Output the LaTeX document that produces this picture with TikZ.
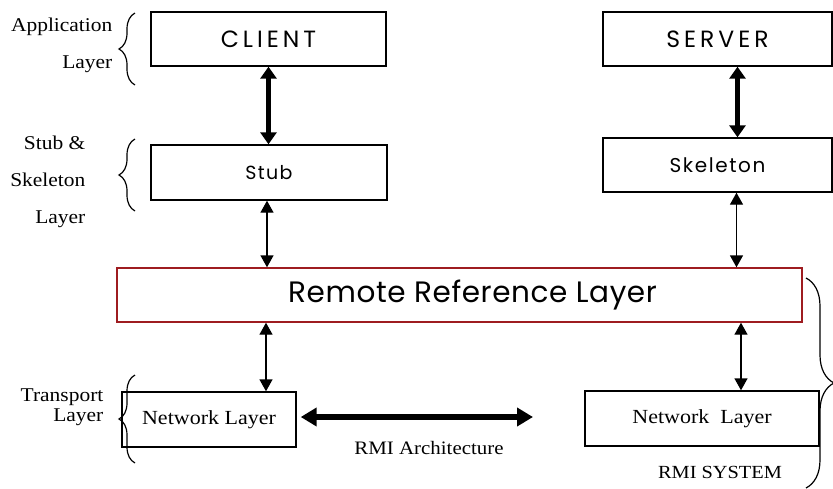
\documentclass[tikz,border=0pt]{standalone}
\usepackage{fontspec}
\setmainfont{Liberation Serif}[FakeStretch=1.1]
\newfontfamily\gothic{Poppins}
\usetikzlibrary{arrows.meta,decorations.pathreplacing}
\definecolor{rrlred}{RGB}{158,28,32}

\begin{document}
\begin{tikzpicture}[x=1pt,y=-1pt,line width=1.3pt]
\tikzset{box/.style={draw=black,rectangle,inner sep=0pt,line width=1.4pt},
  thinarrow/.style={line width=1.4pt,{Triangle[length=12pt,width=13pt]}-{Triangle[length=12pt,width=13pt]}},
  fatarrow/.style={line width=4.5pt,{Triangle[length=12pt,width=16pt]}-{Triangle[length=12pt,width=16pt]}},
  widearrow/.style={line width=6pt,{Triangle[length=16pt,width=18pt]}-{Triangle[length=16pt,width=18pt]}},
  lbl/.style={font=\fontsize{19.5}{37}\selectfont,align=right,anchor=east,inner sep=0pt},
  brc/.style={decorate,decoration={brace,amplitude=16pt},line width=1.2pt}}
\useasboundingbox (0,0) rectangle (833,488);
% ---------- boxes ----------
\node[box,minimum width=235pt,minimum height=54pt,font=\gothic\addfontfeatures{LetterSpace=17}\fontsize{23.5}{24}\selectfont] (client) at (268.5,39) {CLIENT};
\node[box,minimum width=229pt,minimum height=54pt,font=\gothic\addfontfeatures{LetterSpace=17}\fontsize{23.5}{24}\selectfont] (server) at (717.5,39) {SERVER};
\node[box,minimum width=236pt,minimum height=55pt,font=\gothic\addfontfeatures{LetterSpace=7}\fontsize{19}{19}\selectfont] (stub) at (269,172.5) {Stub};
\node[box,minimum width=229pt,minimum height=54pt,font=\gothic\addfontfeatures{LetterSpace=8}\fontsize{20}{20}\selectfont] (skel) at (717.5,165) {Skeleton};
\node[box,draw=rrlred,minimum width=685pt,minimum height=54pt] (rrl) at (459.5,295) {};
\node[font=\gothic\addfontfeatures{LetterSpace=2}\fontsize{29.5}{30}\selectfont] (rrltext) at ([xshift=13pt]rrl.center) {Remote Reference Layer};
\node[box,minimum width=174pt,minimum height=55pt,font=\fontsize{20}{20}\selectfont] (netL) at (209,419.5) {Network Layer};
\node[box,minimum width=234pt,minimum height=55pt,font=\fontsize{20}{20}\selectfont] (netR) at (702,418.5) {Network\ \ Layer};
% ---------- arrows ----------
\draw[fatarrow] (client.south) -- (client.south |- stub.north);
\draw[fatarrow] ([xshift=20pt]server.south) -- ([xshift=20pt]server.south |- skel.north);
\draw[thinarrow] ([xshift=-2pt]stub.south) -- ([xshift=-2pt]stub.south |- rrl.north);
\draw[thinarrow] ([xshift=19pt]skel.south) -- ([xshift=19pt]skel.south |- rrl.north);
\draw[thinarrow] ([xshift=57pt]netL.north |- rrl.south) -- ([xshift=57pt]netL.north);
\draw[thinarrow] ([xshift=39pt]netR.north |- rrl.south) -- ([xshift=39pt]netR.north);
\coordinate (archend) at (533,417);
\draw[widearrow] ([xshift=4pt]netL.east |- archend) -- (archend);
% ---------- braces and labels ----------
\draw[brc] (135,85) -- (135,13);
\draw[brc] (135,211) -- (135,139);
\draw[brc] (135,463) -- (135,375);
\draw[brc,decoration={amplitude=28pt}] (806,278) -- (806,488);
\node[lbl] (applbl) at (113,45) {Application\\Layer};
\node[lbl] (stublbl) at (86,182) {Stub \&\\Skeleton\\Layer};
\node[lbl,font=\fontsize{19.5}{20}\selectfont] (translbl) at (104,407) {Transport\\Layer};
\node[font=\fontsize{19}{19}\selectfont] (archlbl) at (429,448) {RMI Architecture};
\node[font=\fontsize{18.5}{19}\selectfont] (syslbl) at (720,472) {RMI SYSTEM};
\end{tikzpicture}
\end{document}
